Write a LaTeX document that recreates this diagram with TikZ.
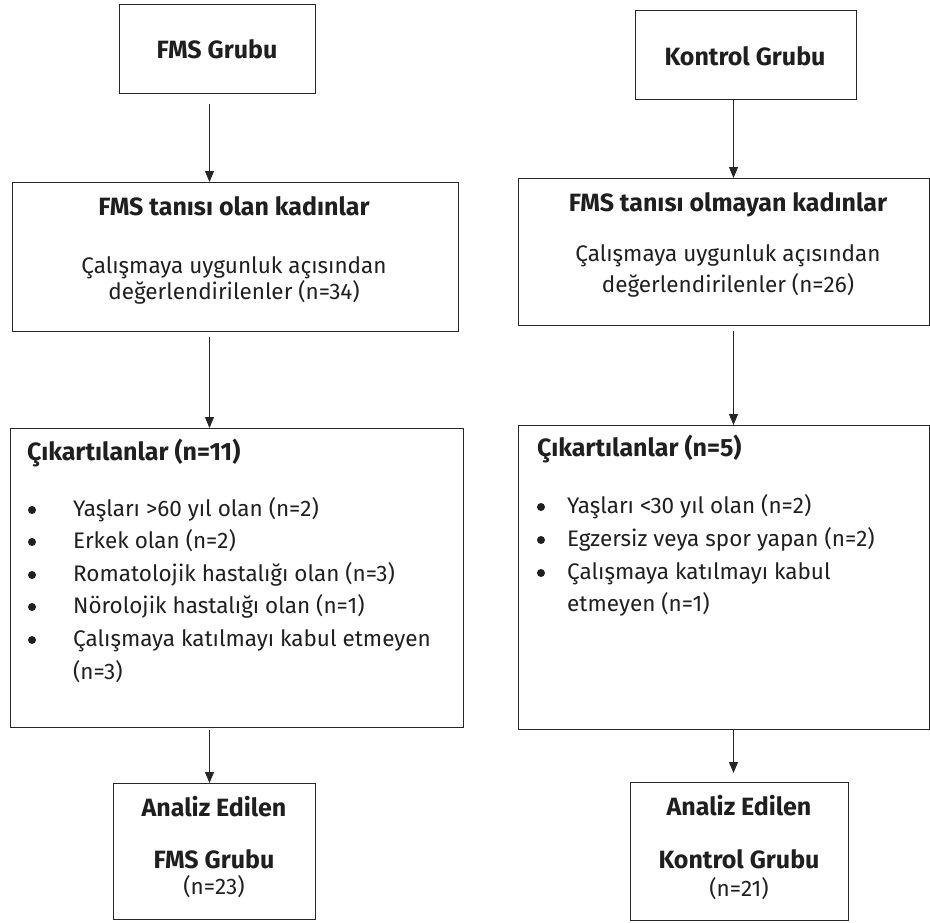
\documentclass[tikz,border=0pt]{standalone}
\usepackage{fontspec}
\setmainfont{Fira Sans}
\usetikzlibrary{arrows.meta}
\begin{document}
\begin{tikzpicture}[x=1pt,y=-1pt,
  box/.style={draw=black!85, line width=1.3pt, anchor=north west, inner sep=0pt},
  txt/.style={font=\fontsize{22.5}{26}\selectfont, text=black!88, anchor=base, inner sep=0pt, yshift=-6.5pt},
  ttl/.style={txt, font=\fontsize{25}{29}\selectfont\bfseries, yshift=-2pt},
  itm/.style={txt, anchor=base west},
  bul/.style={circle, fill=black!88, inner sep=0pt, minimum size=8pt},
  arr/.style={draw=black!85, line width=1pt, -{Triangle[width=9pt,length=11pt]}}]
\useasboundingbox (0,0) rectangle (930,922);
% boxes left
\node[box, minimum width=196pt, minimum height=89pt] (l1) at (119,4) {};
\node[box, minimum width=446pt, minimum height=149pt] (l2) at (12,182) {};
\node[box, minimum width=453pt, minimum height=299pt] (l3) at (10,428) {};
\node[box, minimum width=202pt, minimum height=136pt] (l4) at (113,783) {};
% boxes right
\node[box, minimum width=221pt, minimum height=89pt] (r1) at (635,10) {};
\node[box, minimum width=411pt, minimum height=147pt] (r2) at (518,178) {};
\node[box, minimum width=411pt, minimum height=304pt] (r3) at (518,425) {};
\node[box, minimum width=218pt, minimum height=138pt] (r4) at (630,782) {};
% coordinates for arrows
\coordinate (la) at (209.5,0);
\coordinate (ra) at (733.5,0);
\draw[arr] ([yshift=-10pt]l1.south -| la) -- (l2.north -| la);
\draw[arr] ([yshift=-5pt]l2.south -| la) -- (l3.north -| la);
\draw[arr] ([yshift=-2pt]l3.south -| la) -- (l4.north -| la);
\draw[arr] (r1.south -| ra) -- (r2.north -| ra);
\draw[arr] ([yshift=-5pt]r2.south -| ra) -- (r3.north -| ra);
\draw[arr] (r3.south -| ra) -- ([yshift=9pt]r4.north -| ra);
% texts left
\node[ttl] (t11) at (217,50) {FMS Grubu};
\node[ttl] (t21) at (234,207) {FMS tanısı olan kadınlar};
\node[txt] (t22) at (234,267) {Çalışmaya uygunluk açısından};
\node[txt] (t23) at (234,293) {değerlendirilenler (n=34)};
\node[ttl, anchor=base west] (t31) at (27,452) {Çıkartılanlar (n=11)};
\foreach \y/\t [count=\i] in {510/{Yaşları >60 yıl olan (n=2)},542/{Erkek olan (n=2)},575/{Romatolojik hastalığı olan (n=3)},607/{Nörolojik hastalığı olan (n=1)},640/{Çalışmaya katılmayı kabul etmeyen}}{
  \node[bul] (lb\i) at (32,\y) {};
  \node[itm] (li\i) at (73,\y) {\t};
}
\node[itm] (li6) at (73,673) {(n=3)};
\node[ttl] (t41) at (214,808) {Analiz Edilen};
\node[ttl] (t42) at (214,860) {FMS Grubu};
\node[txt] (t43) at (214,888) {(n=23)};
% texts right
\node[ttl] (s11) at (745,57) {Kontrol Grubu};
\node[ttl] (s21) at (728,203) {FMS tanısı olmayan kadınlar};
\node[txt] (s22) at (728,255) {Çalışmaya uygunluk açısından};
\node[txt] (s23) at (728,286) {değerlendirilenler (n=26)};
\node[ttl, anchor=base west] (s31) at (537,448) {Çıkartılanlar (n=5)};
\foreach \y/\t [count=\i] in {507/{Yaşları <30 yıl olan (n=2)},540/{Egzersiz veya spor yapan (n=2)},573/{Çalışmaya katılmayı kabul}}{
  \node[bul] (rb\i) at (541,\y) {};
  \node[itm] (ri\i) at (567,\y) {\t};
}
\node[itm] (ri4) at (567,605) {etmeyen (n=1)};
\node[ttl] (s41) at (739,807) {Analiz Edilen};
\node[ttl] (s42) at (739,860) {Kontrol Grubu};
\node[txt] (s43) at (739,890) {(n=21)};
\end{tikzpicture}
\end{document}
